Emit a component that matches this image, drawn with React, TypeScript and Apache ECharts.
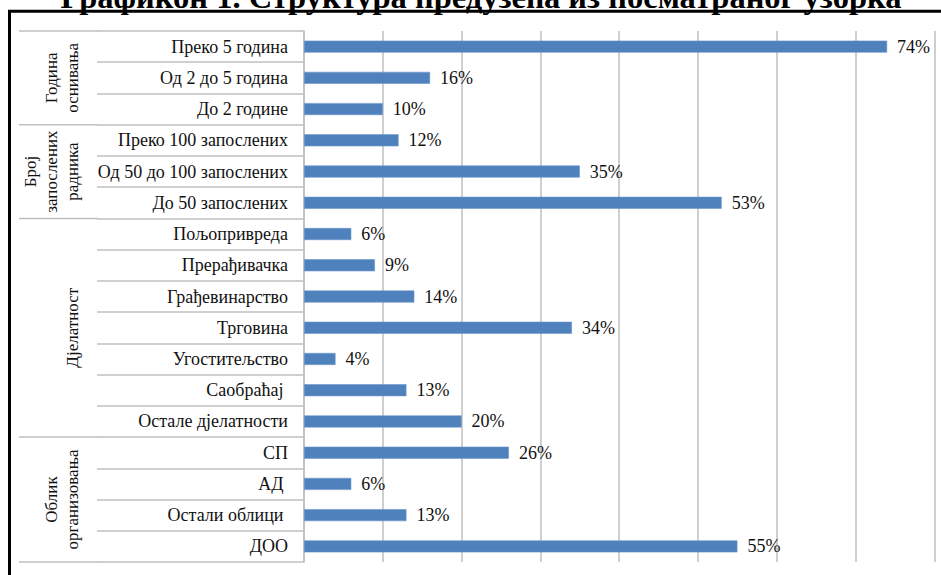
import React, { useEffect, useRef } from "react";
import * as echarts from "echarts";

// Company sample structure: one bar per category, grouped into four blocks
const categories = [
  "Преко 5 година",
  "Од 2 до 5 година",
  "До 2 године",
  "Преко 100 запослених",
  "Од 50 до 100 запослених",
  "До 50 запослених",
  "Пољопривреда",
  "Прерађивачка",
  "Грађевинарство",
  "Трговина",
  "Угоститељство",
  "Саобраћај ",
  "Остале дјелатности",
  "СП",
  "АД ",
  "Остали облици ",
  "ДОО",
];
const shares = [74, 16, 10, 12, 35, 53, 6, 9, 14, 34, 4, 13, 20, 26, 6, 13, 55];

const groupLabels = [
  ["Година", "оснивања"],
  ["Број", "запослених", "радника"],
  ["Дјелатност"],
  ["Облик", "организовања"],
];
const groupSizes = [3, 3, 7, 4];

const axisTicks = [0, 10, 20, 30, 40, 50, 60, 70, 80];

const title = "Графикон 1. Структура предузећа из посматраног узорка";

const SERIF = "'Liberation Serif', 'Times New Roman', serif";
const GRID_COLOR = "#bfbfbf";

export default function App() {
  const ref = useRef<HTMLDivElement>(null);

  useEffect(() => {
    if (!ref.current) return;
    const chart = echarts.init(ref.current, null, { renderer: "svg" });

    chart.setOption({
      animation: false,
      backgroundColor: "#ffffff",
      grid: { left: 304, right: 6.6, top: 31, bottom: 13 },
      xAxis: {
        type: "value",
        min: axisTicks[0],
        max: axisTicks[axisTicks.length - 1],
        interval: axisTicks[1] - axisTicks[0],
        axisLabel: { show: false },
        axisLine: { show: false },
        axisTick: { show: false },
        splitLine: { show: true, lineStyle: { color: GRID_COLOR, width: 1.5 } },
      },
      yAxis: {
        type: "category",
        inverse: true,
        data: categories,
        axisLine: { show: true, lineStyle: { color: GRID_COLOR, width: 1.5 } },
        axisTick: { show: true, length: 207, lineStyle: { color: GRID_COLOR, width: 1.5 } },
        axisLabel: {
          color: "#111",
          fontSize: 18,
          fontFamily: SERIF,
          margin: 16,
        },
      },
      series: [
        {
          type: "bar",
          data: shares,
          barWidth: 12,
          itemStyle: { color: "#4F81BD", borderColor: "#6a96cc", borderWidth: 0.6 },
          label: {
            show: true,
            position: "right",
            distance: 10,
            formatter: "{c}%",
            color: "#111",
            fontSize: 18,
            fontFamily: SERIF,
          },
        },
      ],
    });

    // Group separators and rotated group captions, placed from the category axis
    const c0 = chart.convertToPixel({ yAxisIndex: 0 }, categories[0]) as number;
    const c1 = chart.convertToPixel({ yAxisIndex: 0 }, categories[1]) as number;
    const band = c1 - c0;
    const boundary = (i: number) => c0 - band / 2 + i * band;

    const graphics: any[] = [];
    let start = 0;
    const bounds: number[] = [0];
    groupSizes.forEach((n, gi) => {
      const end = start + n;
      bounds.push(end);
      const mid = (boundary(start) + boundary(end)) / 2;
      const lines = groupLabels[gi];
      lines.forEach((t, li) => {
        const x = 72 - (lines.length - 1 - li) * 21;
        graphics.push({
          type: "text",
          x,
          y: mid,
          rotation: Math.PI / 2,
          style: {
            text: t,
            fill: "#111",
            font: `17px ${SERIF}`,
            align: "center",
            verticalAlign: "middle",
          },
        });
      });
      start = end;
    });
    bounds.forEach((b) => {
      const y = boundary(b);
      graphics.push({
        type: "line",
        shape: { x1: 19, y1: y, x2: 98, y2: y },
        style: { stroke: GRID_COLOR, lineWidth: 1.5 },
      });
    });

    // Outer frame and the heading above it, whose top runs off the page
    graphics.push({
      type: "rect",
      shape: { x: 9.5, y: 11.3, width: 1000, height: 1000 },
      style: { fill: "none", stroke: "#000", lineWidth: 3 },
      z: 10,
    });
    graphics.push({
      type: "text",
      x: 481,
      y: -3.5,
      style: {
        text: title,
        fill: "#000",
        font: `bold 32.5px ${SERIF}`,
        align: "center",
        verticalAlign: "middle",
      },
      z: 10,
    });

    chart.setOption({ graphic: graphics });

    return () => chart.dispose();
  }, []);

  return (
    <div
      ref={ref}
      style={{ position: "fixed", left: 0, top: 0, width: 941, height: 575 }}
    />
  );
}
